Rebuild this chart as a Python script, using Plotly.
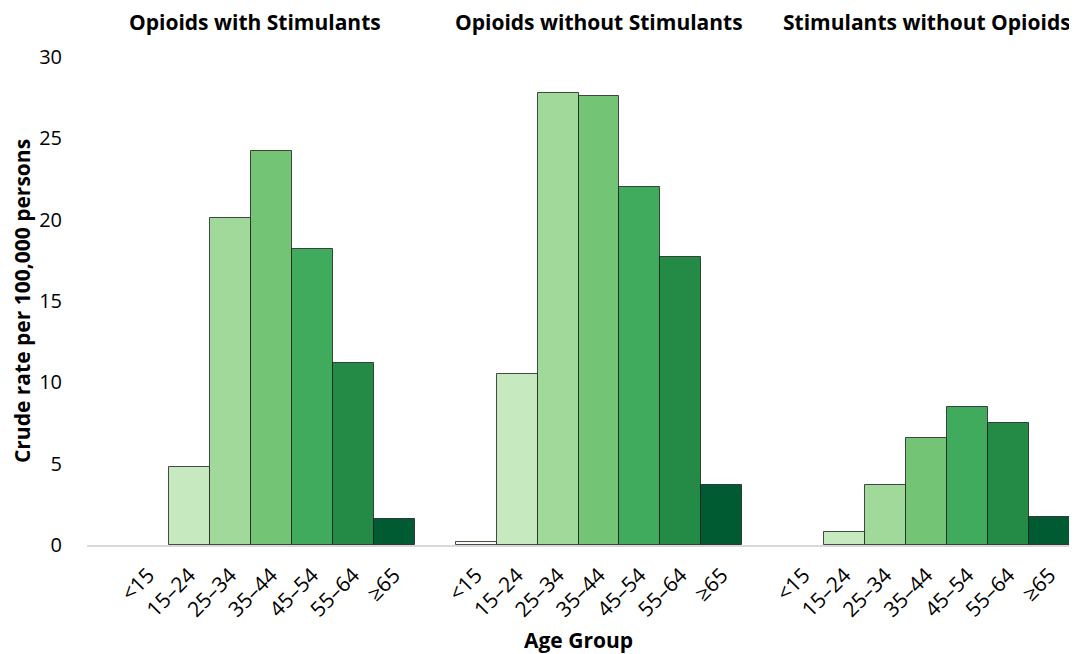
import plotly.graph_objects as go

age_groups = ["<15", "15–24", "25–34", "35–44", "45–54", "55–64", "≥65"]
panels = ["Opioids with Stimulants", "Opioids without Stimulants", "Stimulants without Opioids"]
# None = no bar shown for that age group
opioids_with_stim = [None, 4.8, 20.1, 24.2, 18.2, 11.2, 1.6]
opioids_without_stim = [0.2, 10.5, 27.8, 27.6, 22.0, 17.7, 3.7]
stim_without_opioids = [None, 0.8, 3.7, 6.6, 8.5, 7.5, 1.7]
series = [opioids_with_stim, opioids_without_stim, stim_without_opioids]

colors = ["#f7fcf5", "#c7e9c0", "#a1d99b", "#74c476", "#41ab5d", "#238b45", "#005a32"]

FONT = "Open Sans"
fig = go.Figure()
tickvals, ticktext = [], []
slot = len(age_groups) + 1
for p, vals in enumerate(series):
    xs = [p * slot + i for i in range(len(age_groups))]
    tickvals += xs
    ticktext += age_groups
    fig.add_trace(go.Bar(
        x=xs, y=vals, width=1,
        marker=dict(color=colors, line=dict(color="rgba(30,30,30,0.8)", width=1)),
        name=panels[p], showlegend=False,
        hovertext=age_groups,
    ))

title_x = [2.6, 11.0, 19.0]
for p, name in enumerate(panels):
    fig.add_annotation(x=title_x[p], y=1, xref="x", yref="paper", yanchor="middle",
                       yshift=35, text="<b>%s</b>" % name, showarrow=False,
                       font=dict(family=FONT, size=21, color="black"))

fig.update_layout(
    width=1069, height=646,
    margin=dict(l=79, r=7, t=49, b=109),
    paper_bgcolor="white", plot_bgcolor="white",
    font=dict(family=FONT, size=20, color="black"),
    bargap=0,
    xaxis=dict(range=[-1.5, 22.5], tickvals=tickvals, ticktext=ticktext, tickangle=-45,
               showgrid=False, zeroline=False, showline=True, linecolor="#d9d9d9", linewidth=1.5,
               ticks="outside", ticklen=8, tickcolor="rgba(0,0,0,0)", automargin=False,
               tickfont=dict(family=FONT, size=21),
               title=dict(text="<b>Age Group</b>", font=dict(family=FONT, size=21), standoff=17)),
    yaxis=dict(range=[0, 30], tickvals=[0, 5, 10, 15, 20, 25, 30], showgrid=False, zeroline=False,
               showline=False, ticks="outside", ticklen=20, tickcolor="rgba(0,0,0,0)",
               automargin=False,
               tickfont=dict(family=FONT, size=20),
               title=dict(text="<b>Crude rate per 100,000 persons</b>", font=dict(family=FONT, size=21),
                          standoff=15)),
)

fig.write_html("out.html")
